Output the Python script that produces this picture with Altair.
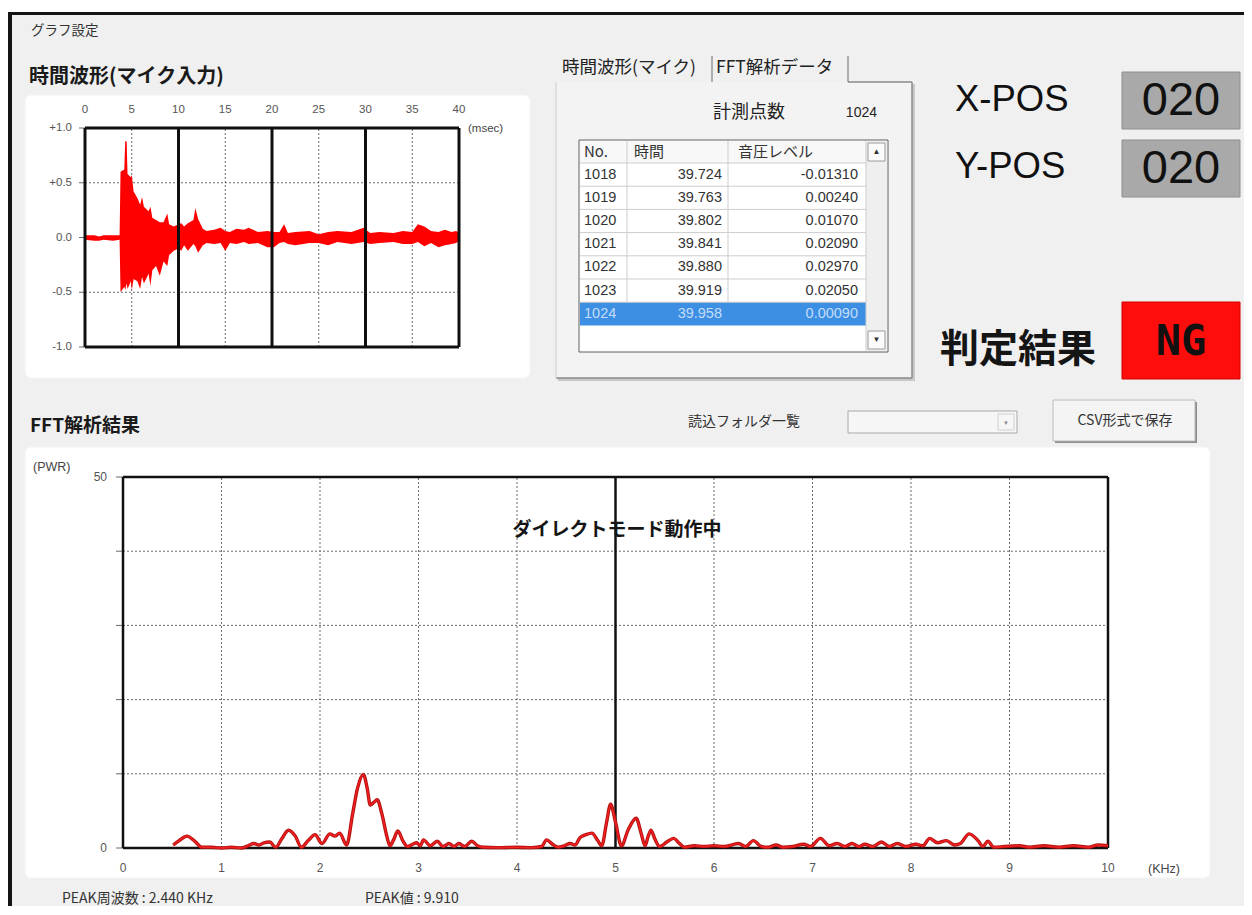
import altair as alt
import pandas as pd

# ------------------------------------------------------------------ data
# time waveform (msec) : upper / lower envelope of the red trace
wave_t = [0.0, 1.0, 1.5, 2.0, 3.0, 3.7, 3.8, 4.2, 4.3, 4.45,
          4.55, 4.9, 5.0, 5.2, 5.6, 5.9, 6.1, 6.3, 6.8, 7.0,
          7.2, 7.6, 8.0, 8.4, 8.8, 9.0, 9.5, 10.0, 10.3, 10.6,
          11.0, 11.6, 11.8, 12.1, 12.6, 13.0, 13.8, 14.5, 15.0, 15.5,
          16.2, 17.0, 17.5, 18.5, 19.5, 20.2, 20.8, 21.3, 21.7, 22.5,
          24.0, 25.0, 26.0, 27.0, 28.5, 29.8, 30.5, 31.5, 33.0, 34.0,
          35.0, 35.6, 36.3, 37.0, 37.8, 38.5, 39.2, 39.7, 40.0]
wave_hi = [0.02, 0.02, 0.01, 0.02, 0.02, 0.02, 0.60, 0.62, 0.88, 0.88,
           0.58, 0.55, 0.57, 0.42, 0.36, 0.30, 0.37, 0.28, 0.24, 0.28,
           0.18, 0.16, 0.14, 0.14, 0.22, 0.12, 0.10, 0.12, 0.13, 0.10,
           0.13, 0.16, 0.27, 0.17, 0.08, 0.06, 0.07, 0.09, 0.06, 0.05,
           0.08, 0.07, 0.09, 0.05, 0.06, 0.05, 0.05, 0.12, 0.04, 0.05,
           0.06, 0.03, 0.05, 0.06, 0.05, 0.09, 0.04, 0.05, 0.04, 0.06,
           0.05, 0.12, 0.10, 0.06, 0.05, 0.07, 0.05, 0.06, 0.04]
wave_lo = [-0.02, -0.03, -0.03, -0.02, -0.03, -0.02, -0.50, -0.45, -0.48, -0.42,
           -0.47, -0.40, -0.48, -0.38, -0.40, -0.47, -0.36, -0.42, -0.33, -0.44,
           -0.30, -0.26, -0.35, -0.22, -0.26, -0.16, -0.12, -0.10, -0.12, -0.07,
           -0.12, -0.06, -0.08, -0.14, -0.07, -0.05, -0.06, -0.05, -0.12, -0.05,
           -0.06, -0.04, -0.06, -0.05, -0.09, -0.09, -0.05, -0.04, -0.06, -0.07,
           -0.05, -0.05, -0.07, -0.04, -0.06, -0.04, -0.06, -0.05, -0.04, -0.06,
           -0.06, -0.04, -0.08, -0.05, -0.09, -0.07, -0.06, -0.05, -0.03]
wave_x_ticks = [0, 5, 10, 15, 20, 25, 30, 35, 40]
wave_x_major = [0, 10, 20, 30, 40]
wave_x_minor = [5, 15, 25, 35]
wave_y_ticks = [1.0, 0.5, 0.0, -0.5, -1.0]
wave_y_labels = ["+1.0", "+0.5", "0.0", "-0.5", "-1.0"]
wave_y_major = [1.0, -1.0]
wave_y_minor = [0.5, 0.0, -0.5]

# FFT spectrum (kHz, PWR)
fft_freq = [0.51, 0.57, 0.65, 0.73, 0.80, 0.90, 1.00, 1.10, 1.20, 1.27,
            1.33, 1.38, 1.43, 1.49, 1.55, 1.61, 1.68, 1.75, 1.81, 1.88,
            1.95, 2.02, 2.10, 2.15, 2.20, 2.27, 2.33, 2.38, 2.44, 2.48,
            2.51, 2.55, 2.58, 2.63, 2.68, 2.71, 2.75, 2.79, 2.84, 2.89,
            2.94, 2.98, 3.02, 3.05, 3.12, 3.19, 3.25, 3.31, 3.36, 3.41,
            3.47, 3.54, 3.60, 3.66, 3.80, 4.00, 4.15, 4.25, 4.30, 4.36,
            4.42, 4.48, 4.54, 4.59, 4.64, 4.70, 4.76, 4.82, 4.86, 4.91,
            4.95, 5.00, 5.06, 5.13, 5.21, 5.26, 5.30, 5.33, 5.36, 5.40,
            5.45, 5.52, 5.59, 5.65, 5.70, 5.80, 5.90, 6.00, 6.10, 6.25,
            6.32, 6.40, 6.48, 6.55, 6.63, 6.70, 6.80, 6.91, 6.98, 7.08,
            7.17, 7.25, 7.33, 7.40, 7.47, 7.53, 7.61, 7.70, 7.78, 7.86,
            7.95, 8.05, 8.12, 8.19, 8.27, 8.36, 8.44, 8.50, 8.59, 8.68,
            8.73, 8.78, 8.84, 8.95, 9.10, 9.20, 9.35, 9.50, 9.65, 9.80,
            9.90, 10.00]
fft_pwr = [0.4, 1.0, 1.6, 0.9, 0.1, 0.1, 0.0, 0.1, 0.0, 0.3,
           0.6, 0.4, 0.7, 0.8, 0.1, 1.2, 2.4, 1.6, 0.1, 1.0,
           1.8, 0.6, 1.9, 1.6, 2.0, 0.4, 4.5, 8.0, 9.91, 8.0,
           5.8, 6.2, 6.5, 4.5, 1.5, 0.3, 1.2, 2.3, 1.0, 0.2,
           0.5, 0.7, 0.3, 1.1, 0.3, 0.9, 0.2, 0.6, 0.2, 0.6,
           0.2, 0.9, 0.3, 0.1, 0.05, 0.1, 0.05, 0.2, 1.1, 0.5,
           0.1, 0.3, 0.6, 0.4, 1.4, 1.8, 2.0, 1.0, 0.3, 3.5,
           5.9, 3.5, 0.3, 2.5, 4.0, 2.0, 0.3, 1.5, 2.4, 1.2,
           0.2, 0.8, 1.3, 0.6, 0.1, 0.3, 0.2, 0.3, 0.2, 0.6,
           0.2, 1.0, 0.2, 0.1, 0.4, 0.1, 0.2, 0.5, 0.2, 1.3,
           0.3, 0.6, 0.2, 0.6, 0.2, 0.5, 0.2, 0.8, 0.2, 0.6,
           0.2, 0.5, 0.3, 1.3, 0.7, 1.0, 0.4, 0.6, 1.9, 1.0,
           0.2, 0.9, 0.1, 0.2, 0.3, 0.1, 0.3, 0.1, 0.3, 0.1,
           0.4, 0.3]
fft_x_ticks = [0, 1, 2, 3, 4, 5, 6, 7, 8, 9, 10]
fft_x_major = [0, 5, 10]
fft_x_minor = [1, 2, 3, 4, 6, 7, 8, 9]
fft_y_ticks = [0, 10, 20, 30, 40, 50]
fft_y_major = [0, 50]
fft_y_minor = [10, 20, 30, 40]
fft_y_label_values = [50, 0]

# table / indicator contents
table_header = ["No.", "時間", "音圧レベル"]
table_no = ["1018", "1019", "1020", "1021", "1022", "1023", "1024"]
table_time = ["39.724", "39.763", "39.802", "39.841", "39.880", "39.919", "39.958"]
table_level = ["-0.01310", "0.00240", "0.01070", "0.02090", "0.02970", "0.02050", "0.00090"]
selected_index = 6
point_count = "1024"
x_pos = "020"
y_pos = "020"
judgement = "NG"
peak_freq = "2.440"
peak_value = "9.910"

# ---------------------------------------------------------------- layout
OFF = 8                 # page margin
W, H = 1236, 898        # chart size (page px 8..1244, 8..906)
JP = "Noto Sans CJK JP"
LAT = "Liberation Sans"
MONO = "DejaVu Sans Mono, Liberation Sans"


def scl(d0, d1, p0, p1):
    return alt.Scale(domain=[d0, d1], range=[p0 - OFF, p1 - OFF], nice=False, zero=False)


PX = scl(OFF, OFF + W, OFF, OFF + W)
PY = scl(OFF, OFF + H, OFF, OFF + H)
WXS = scl(0, 40, 85, 459)
WYS = scl(-1, 1, 347, 128)
FXS = scl(0, 10, 123, 1108)
FYS = scl(0, 50, 848, 477)


def rect_layer(rows, **kw):
    df = pd.DataFrame(rows, columns=["x0", "x1", "y0", "y1", "fill", "stroke"])
    return alt.Chart(df).mark_rect(**kw).encode(
        x=alt.X("x0:Q", scale=PX, axis=None), x2="x1:Q",
        y=alt.Y("y0:Q", scale=PY, axis=None), y2="y1:Q",
        fill=alt.Fill("fill:N", scale=None),
        stroke=alt.Stroke("stroke:N", scale=None))


def rule_layer(rows, **kw):
    df = pd.DataFrame(rows, columns=["x0", "x1", "y0", "y1"])
    return alt.Chart(df).mark_rule(**kw).encode(
        x=alt.X("x0:Q", scale=PX, axis=None), x2="x1:Q",
        y=alt.Y("y0:Q", scale=PY, axis=None), y2="y1:Q")


def text_layer(rows, **kw):
    df = pd.DataFrame(rows, columns=["x", "y", "text"])
    return alt.Chart(df).mark_text(baseline="middle", **kw).encode(
        x=alt.X("x:Q", scale=PX, axis=None),
        y=alt.Y("y:Q", scale=PY, axis=None), text="text:N")


def vgrid(values, xs, ys, lo, hi, **kw):
    df = pd.DataFrame({"v": values, "lo": lo, "hi": hi})
    return alt.Chart(df).mark_rule(**kw).encode(
        x=alt.X("v:Q", scale=xs, axis=None),
        y=alt.Y("lo:Q", scale=ys, axis=None), y2="hi:Q")


def hgrid(values, xs, ys, lo, hi, **kw):
    df = pd.DataFrame({"v": values, "lo": lo, "hi": hi})
    return alt.Chart(df).mark_rule(**kw).encode(
        y=alt.Y("v:Q", scale=ys, axis=None),
        x=alt.X("lo:Q", scale=xs, axis=None), x2="hi:Q")


def yticks(values, ys, px0, px1, **kw):
    df = pd.DataFrame({"v": values})
    return alt.Chart(df).mark_rule(**kw).encode(
        y=alt.Y("v:Q", scale=ys, axis=None),
        x=alt.value(px0 - OFF), x2=alt.value(px1 - OFF))


layers = []

# ------------------------------------------------------------ background
layers.append(rect_layer([
    (8, 1244, 8, 12, "#ffffff", "transparent"),
    (8, 1244, 12, 15, "#141414", "transparent"),
    (8, 12, 12, 906, "#141414", "transparent"),
], strokeWidth=0))
layers.append(rect_layer([
    (25, 530, 95, 378, "#ffffff", "#f4f4f4"),
    (25, 1210, 447, 878, "#ffffff", "#f4f4f4"),
], strokeWidth=1, cornerRadius=6))
layers.append(rect_layer([
    (558, 915, 84, 381, "#c8c8c8", "transparent"),         # panel shadow
    (556, 912, 82, 378, "#f3f3f3", "transparent"),         # tab panel
    (579, 888, 140, 352, "#ffffff", "#5f5f5f"),            # table
    (580, 866, 141, 163, "#f8f8f8", "transparent"),        # header
    (580, 866, 163 + selected_index * 23.2, 163 + (selected_index + 1) * 23.2,
     "#3d8fe4", "transparent"),                            # selected row
    (866, 887, 141, 351, "#efefef", "transparent"),        # scrollbar
    (868, 885, 143, 161, "#fbfbfb", "#9a9a9a"),
    (868, 885, 331, 349, "#fbfbfb", "#9a9a9a"),
    (848, 1017, 411, 433, "#f6f6f6", "#a8a8a8"),           # dropdown
    (998, 1014, 414, 430, "#f6f6f6", "#d0d0d0"),
    (1055, 1197, 402, 443, "#8c8c8c", "transparent"),      # button shadow
    (1053, 1195, 400, 441, "#f4f4f4", "#bcbcbc"),          # button
    (1122, 1240, 72, 129, "#a9a9a9", "#8e8e8e"),           # X-POS box
    (1122, 1240, 140, 197, "#a9a9a9", "#8e8e8e"),          # Y-POS box
    (1122, 1240, 302, 379, "#ff0c0c", "#d00000"),          # NG box
], strokeWidth=1))
# panel edges, tab separators, table grid
layers.append(rule_layer([
    (848, 912, 82, 82), (912, 912, 82, 378), (556, 912, 378, 378),
], color="#8a8a8a", strokeWidth=1.5))
layers.append(rule_layer([(556, 556, 82, 378)], color="#cfcfcf", strokeWidth=1))
layers.append(rule_layer([(712, 712, 56, 82), (848, 848, 56, 82)], color="#6a6a6a", strokeWidth=1))
table_lines = [(580, 866, 163 + k * 23.2, 163 + k * 23.2) for k in range(0, 7)]
table_lines += [(627, 627, 141, 302.2), (728, 728, 141, 302.2), (866, 866, 141, 351)]
layers.append(rule_layer(table_lines, color="#cdcdcd", strokeWidth=1))

# --------------------------------------------------------- time waveform
layers.append(vgrid(wave_x_minor, WXS, WYS, -1, 1, color="#6a6a6a", strokeWidth=1, strokeDash=[2, 2]))
layers.append(hgrid(wave_y_minor, WXS, WYS, 0, 40, color="#6a6a6a", strokeWidth=1, strokeDash=[2, 2]))
layers.append(yticks(wave_y_ticks, WYS, 79, 85, color="#6a6a6a", strokeWidth=1))
wave_df = pd.DataFrame({"t": wave_t, "hi": wave_hi, "lo": wave_lo})
layers.append(alt.Chart(wave_df).mark_area(color="#ff0000", interpolate="linear").encode(
    x=alt.X("t:Q", scale=WXS, axis=None),
    y=alt.Y("hi:Q", scale=WYS, axis=None), y2="lo:Q"))
layers.append(vgrid(wave_x_major, WXS, WYS, -1, 1, color="#101010", strokeWidth=3))
layers.append(hgrid(wave_y_major, WXS, WYS, 0, 40, color="#101010", strokeWidth=3))
layers.append(alt.Chart(pd.DataFrame({"v": wave_x_ticks, "label": [str(v) for v in wave_x_ticks]}))
              .mark_text(font=LAT, fontSize=11.5, color="#555555", baseline="middle")
              .encode(x=alt.X("v:Q", scale=WXS, axis=None), y=alt.value(110 - OFF), text="label:N"))
layers.append(alt.Chart(pd.DataFrame({"v": wave_y_ticks, "label": wave_y_labels}))
              .mark_text(font=LAT, fontSize=11.5, color="#555555", baseline="middle", align="right")
              .encode(y=alt.Y("v:Q", scale=WYS, axis=None), x=alt.value(72 - OFF), text="label:N"))

# ----------------------------------------------------------- FFT chart
layers.append(vgrid(fft_x_minor, FXS, FYS, 0, 50, color="#6a6a6a", strokeWidth=1, strokeDash=[2, 2]))
layers.append(hgrid(fft_y_minor, FXS, FYS, 0, 10, color="#6a6a6a", strokeWidth=1, strokeDash=[2, 2]))
layers.append(yticks(fft_y_ticks, FYS, 116, 123, color="#6a6a6a", strokeWidth=1))
layers.append(vgrid(fft_x_major, FXS, FYS, 0, 50, color="#101010", strokeWidth=2.5))
layers.append(hgrid(fft_y_major, FXS, FYS, 0, 10, color="#101010", strokeWidth=2.5))
fft_df = pd.DataFrame({"f": fft_freq, "p": fft_pwr})
layers.append(alt.Chart(fft_df).mark_line(color="#b21010", strokeWidth=3.4, interpolate="monotone").encode(
    x=alt.X("f:Q", scale=FXS, axis=None), y=alt.Y("p:Q", scale=FYS, axis=None)))
layers.append(alt.Chart(fft_df).mark_line(color="#f02020", strokeWidth=1.6, interpolate="monotone").encode(
    x=alt.X("f:Q", scale=FXS, axis=None), y=alt.Y("p:Q", scale=FYS, axis=None)))
layers.append(alt.Chart(pd.DataFrame({"v": fft_x_ticks, "label": [str(v) for v in fft_x_ticks]}))
              .mark_text(font=LAT, fontSize=12, color="#555555", baseline="middle")
              .encode(x=alt.X("v:Q", scale=FXS, axis=None), y=alt.value(868 - OFF), text="label:N"))
layers.append(alt.Chart(pd.DataFrame({"v": fft_y_label_values,
                                      "label": [str(v) for v in fft_y_label_values]}))
              .mark_text(font=LAT, fontSize=12, color="#555555", baseline="middle", align="right")
              .encode(y=alt.Y("v:Q", scale=FYS, axis=None), x=alt.value(107 - OFF), text="label:N"))

# ----------------------------------------------------------------- texts
layers.append(text_layer([(31, 31, "グラフ設定")], font=JP, fontSize=13.5, align="left", color="#333333"))
layers.append(text_layer([(29, 77, "時間波形(マイク入力)")], font=JP, fontSize=20, fontWeight="bold",
                         align="left", color="#1a1a1a"))
layers.append(text_layer([(30, 426, "FFT解析結果")], font=JP, fontSize=19, fontWeight="bold",
                         align="left", color="#1a1a1a"))
layers.append(text_layer([(562, 68, "時間波形(マイク)"), (716, 68, "FFT解析データ")],
                         font=JP, fontSize=17.5, align="left", color="#222222"))
layers.append(text_layer([(713, 113, "計測点数")], font=JP, fontSize=18, align="left", color="#222222"))
layers.append(text_layer([(877, 113, point_count)], font=LAT, fontSize=14, align="right", color="#222222"))
layers.append(text_layer([(584, 152, table_header[0]), (634, 152, table_header[1]),
                          (738, 152, table_header[2])],
                         font=JP, fontSize=15, align="left", color="#333333"))
ROW_TOP, ROW_H = 163.0, 23.2
normal = [i for i in range(len(table_no)) if i != selected_index]
layers.append(text_layer([(584, ROW_TOP + (i + 0.5) * ROW_H, table_no[i]) for i in normal],
                         font=LAT, fontSize=14.5, align="left", color="#333333"))
layers.append(text_layer([(722, ROW_TOP + (i + 0.5) * ROW_H, table_time[i]) for i in normal]
                         + [(858, ROW_TOP + (i + 0.5) * ROW_H, table_level[i]) for i in normal],
                         font=LAT, fontSize=14.5, align="right", color="#333333"))
ys = ROW_TOP + (selected_index + 0.5) * ROW_H
layers.append(text_layer([(584, ys, table_no[selected_index])],
                         font=LAT, fontSize=14.5, align="left", color="#c4ddf7"))
layers.append(text_layer([(722, ys, table_time[selected_index]), (858, ys, table_level[selected_index])],
                         font=LAT, fontSize=14.5, align="right", color="#c4ddf7"))
layers.append(text_layer([(876.5, 152, "▲"), (876.5, 340, "▼")], font=LAT, fontSize=8, color="#333333"))
layers.append(text_layer([(1006, 423, "▼")], font=LAT, fontSize=6, color="#8a8a8a"))
layers.append(text_layer([(955, 100, "X-POS"), (955, 167, "Y-POS")], font=LAT, fontSize=36.5,
                         align="left", color="#111111"))
layers.append(text_layer([(1181, 101, x_pos), (1181, 169, y_pos)], font=LAT, fontSize=47, color="#111111"))
layers.append(text_layer([(940, 350, "判定結果")], font=JP, fontSize=39, fontWeight="bold",
                         align="left", color="#151515"))
layers.append(text_layer([(1181, 342, judgement)], font=MONO, fontSize=42, fontWeight="bold", color="#111111"))
layers.append(text_layer([(688, 422, "読込フォルダ一覧")], font=JP, fontSize=14, align="left", color="#333333"))
layers.append(text_layer([(1125, 421, "CSV形式で保存")], font=JP, fontSize=14, color="#333333"))
layers.append(text_layer([(33, 467, "(PWR)"), (1148, 869, "(KHz)")], font=LAT, fontSize=12.5,
                         align="left", color="#444444"))
layers.append(text_layer([(468, 129, "(msec)")], font=LAT, fontSize=11.5, align="left", color="#444444"))
layers.append(text_layer([(617, 530, "ダイレクトモード動作中")], font=JP, fontSize=19, fontWeight="bold",
                         color="#151515"))
layers.append(text_layer([(62, 899, "PEAK周波数 : " + peak_freq + " KHz"), (365, 899, "PEAK値 : " + peak_value)],
                         font=JP, fontSize=14, align="left", color="#333333"))

chart = (alt.layer(*layers)
         .resolve_scale(x="independent", y="independent")
         .properties(width=W, height=H, background="#f0f0f0", padding=0,
                     autosize=alt.AutoSizeParams(type="none"))
         .configure_view(strokeWidth=0))

chart.save("out.html", embed_options={"renderer": "svg", "actions": False})
